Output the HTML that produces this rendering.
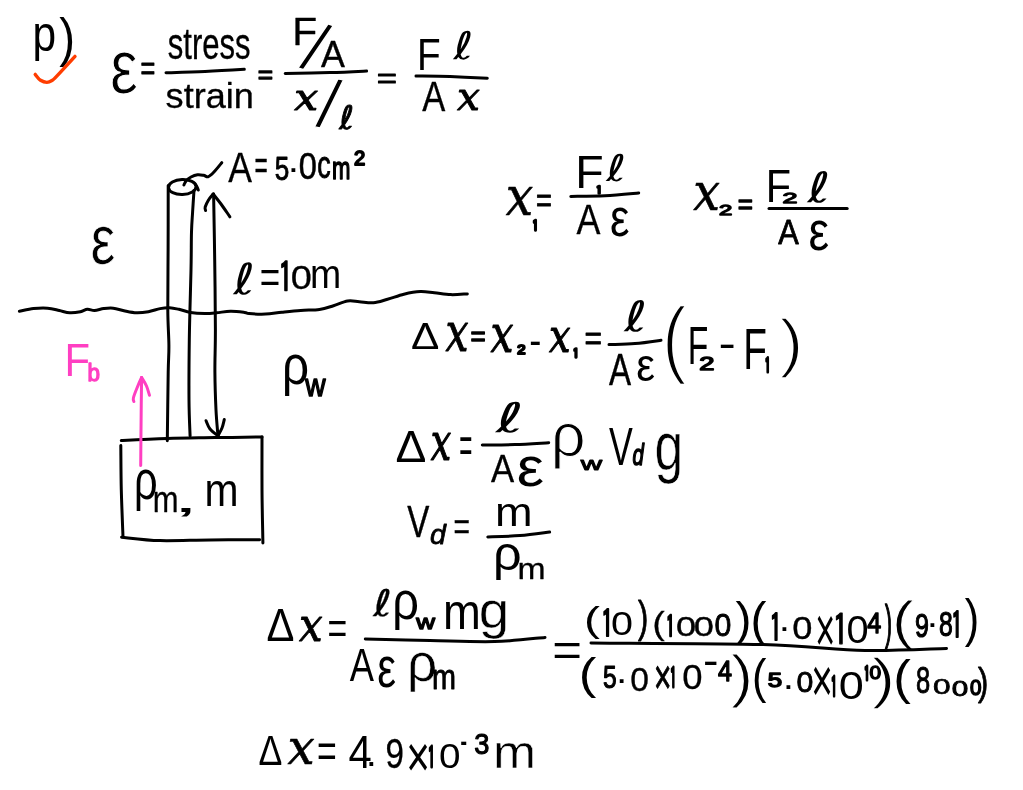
<!DOCTYPE html>
<html lang="en"><head><meta charset="utf-8"><title>Young's modulus - buoyancy problem p)</title>
<style>
html,body{margin:0;padding:0;background:#fff;}
body{width:1023px;height:790px;overflow:hidden;}
svg{display:block;will-change:transform;}
text{font-size:100px;fill:#000;stroke:#000;stroke-linejoin:round;stroke-linecap:round;vector-effect:non-scaling-stroke;}
.a{font-family:"Liberation Sans",sans-serif;}
.b{font-family:"Liberation Sans",sans-serif;font-style:italic;}
.c{font-family:"Liberation Serif",serif;font-style:italic;}
.d{font-family:"DejaVu Sans","Liberation Sans",sans-serif;}
.e{font-family:"DejaVu Sans","Liberation Sans",sans-serif;font-style:italic;}
.f{font-family:"DejaVu Serif","Liberation Serif",serif;font-style:italic;}
.g{font-family:IPAGothic,"Liberation Sans",sans-serif;}
.ink path,.ink ellipse{fill:none;stroke:#000;stroke-width:3;stroke-linecap:round;stroke-linejoin:round;}
</style></head><body>
<svg width="1023" height="790" viewBox="0 0 1023 790">
<rect width="1023" height="790" fill="#fff"/>
<g>
<text transform="matrix(0.4244 0 0 0.4933 32.44 50.64)" class="a" style="stroke:none;">p</text>
<text transform="matrix(0.4755 0 0 0.5283 59.16 55.90)" class="a" style="stroke:none;">)</text>
<text transform="matrix(0.6282 0 0 0.7654 109.95 92.78)" class="a" style="stroke:#fff;stroke-width:1.10;">ε</text>
<text transform="matrix(0.2536 0 0 0.3262 140.53 80.38)" class="a" style="stroke-width:0.80;">=</text>
<text transform="matrix(0.3104 0 0 0.4485 167.82 59.00)" class="a" style="stroke-width:0.30;">stress</text>
<text transform="matrix(0.3613 0 0 0.3524 165.57 107.70)" class="a" style="stroke-width:0.30;">strain</text>
<text transform="matrix(0.2619 0 0 0.2585 257.74 82.61)" class="a" style="stroke-width:1.30;">=</text>
<text transform="matrix(0.4082 0 0 0.3826 292.28 45.45)" class="a" style="stroke-width:0.30;">F</text>
<text transform="rotate(18.4 315.8 46.8) matrix(0.7269 0 0 0.6963 305.57 71.69)" class="a" style="stroke:#fff;stroke-width:1.39;">/</text>
<text transform="matrix(0.3581 0 0 0.3625 320.99 67.01)" class="a" style="stroke-width:0.38;">A</text>
<text transform="matrix(0.4238 0 0 0.3458 294.35 109.84)" class="f" style="stroke-width:1.12;">x</text>
<text transform="rotate(10.2 329.1 103.4) matrix(0.7308 0 0 0.7002 318.87 128.43)" class="a" style="stroke:#fff;stroke-width:1.39;">/</text>
<text transform="matrix(0.3616 0 0 0.3237 339.36 128.51)" class="d" style="stroke-width:0.80;">ℓ</text>
<text transform="matrix(0.3402 0 0 0.2738 376.95 87.57)" class="a" style="stroke-width:1.30;">=</text>
<text transform="matrix(0.3878 0 0 0.4420 416.90 69.70)" class="a" style="stroke:none;">F</text>
<text transform="matrix(0.4839 0 0 0.3837 453.55 58.96)" class="d" style="stroke:none;">ℓ</text>
<text transform="matrix(0.3459 0 0 0.4188 422.15 111.45)" class="a" style="stroke-width:0.30;">A</text>
<text transform="matrix(0.4073 0 0 0.3979 457.05 109.95)" class="f" style="stroke-width:0.91;">x</text>
<text transform="matrix(0.3555 0 0 0.4252 228.33 181.77)" class="a" style="stroke-width:0.26;">A</text>
<text transform="matrix(0.2268 0 0 0.4062 254.42 179.35)" class="a" style="stroke-width:0.30;">=</text>
<text transform="matrix(0.2611 0 0 0.3386 274.86 179.66)" class="a" style="stroke-width:0.80;">5</text>
<text transform="matrix(0.4000 0 0 0.3455 286.70 180.33)" class="a" style="stroke:none;">·</text>
<text transform="matrix(0.3256 0 0 0.3652 298.63 178.80)" class="a" style="stroke-width:0.47;">0</text>
<text transform="matrix(0.2690 0 0 0.3855 317.32 177.91)" class="a" style="stroke-width:0.80;">c</text>
<text transform="matrix(0.2213 0 0 0.3204 331.91 178.75)" class="a" style="stroke-width:1.30;">m</text>
<text transform="matrix(0.2022 0 0 0.1943 353.89 165.30)" class="a" style="stroke-width:1.80;">2</text>
<text transform="matrix(0.5567 0 0 0.7038 90.55 264.20)" class="a" style="stroke:#fff;stroke-width:0.61;">ε</text>
<text transform="matrix(0.5205 0 0 0.4289 233.52 293.66)" class="d" style="stroke:none;">ℓ</text>
<text transform="matrix(0.3505 0 0 0.4615 259.65 292.62)" class="a" style="stroke:none;">=</text>
<text transform="matrix(0.2909 0 0 0.4134 278.30 292.74)" class="g" style="stroke-width:1.26;">1</text>
<text transform="matrix(0.3792 0 0 0.3268 290.73 288.82)" class="a" style="stroke-width:0.30;">0</text>
<text transform="matrix(0.3745 0 0 0.4130 309.97 287.50)" class="a" style="stroke:none;">m</text>
<text transform="matrix(0.4184 0 0 0.4681 64.55 375.50)" class="a" style="fill:#ff3fc2;stroke:none;">F</text>
<text transform="matrix(0.2244 0 0 0.2395 87.39 380.51)" class="a" style="fill:#ff3fc2;stroke-width:1.30;stroke:#ff3fc2;">b</text>
<text transform="matrix(0.4753 0 0 0.5493 282.01 383.86)" class="a" style="stroke:none;">ρ</text>
<text transform="matrix(0.2814 0 0 0.3094 305.15 396.05)" class="a" style="stroke-width:1.30;">w</text>
<text transform="matrix(0.4151 0 0 0.5640 134.00 499.46)" class="a" style="stroke:none;">ρ</text>
<text transform="matrix(0.3092 0 0 0.3741 152.64 512.35)" class="a" style="stroke-width:0.30;">m</text>
<text transform="matrix(0.9400 0 0 0.3745 172.84 512.33)" class="a" style="stroke:none;">,</text>
<text transform="matrix(0.4085 0 0 0.4556 204.44 506.00)" class="a" style="stroke:none;">m</text>
<text transform="matrix(0.4880 0 0 0.5414 505.63 214.83)" class="f" style="stroke-width:0.55;">x</text>
<text transform="matrix(0.1131 0 0 0.1456 532.60 230.97)" class="g" style="stroke-width:2.51;">1</text>
<text transform="matrix(0.2722 0 0 0.3262 536.04 212.28)" class="a" style="stroke-width:0.80;">=</text>
<text transform="matrix(0.4653 0 0 0.4609 575.28 188.30)" class="a" style="stroke:none;">F</text>
<text transform="matrix(0.1111 0 0 0.1079 596.14 193.87)" class="g" style="stroke-width:2.54;">1</text>
<text transform="matrix(0.4839 0 0 0.3666 606.15 181.38)" class="d" style="stroke:none;">ℓ</text>
<text transform="matrix(0.3585 0 0 0.4194 576.53 233.87)" class="a" style="stroke-width:0.26;">A</text>
<text transform="matrix(0.4359 0 0 0.5327 609.97 236.07)" class="a" style="stroke:none;">ε</text>
<text transform="matrix(0.4740 0 0 0.5268 693.26 209.70)" class="f" style="stroke-width:0.60;">x</text>
<text transform="matrix(0.2374 0 0 0.1486 719.11 214.80)" class="a" style="stroke-width:1.80;">2</text>
<text transform="matrix(0.2598 0 0 0.2738 737.85 213.77)" class="a" style="stroke-width:1.30;">=</text>
<text transform="matrix(0.4143 0 0 0.4609 765.69 202.30)" class="a" style="stroke:none;">F</text>
<text transform="matrix(0.2681 0 0 0.1557 782.56 202.60)" class="a" style="stroke-width:1.80;">2</text>
<text transform="matrix(0.5589 0 0 0.4184 807.56 201.67)" class="d" style="stroke:none;">ℓ</text>
<text transform="matrix(0.3075 0 0 0.3572 778.18 243.82)" class="a" style="stroke-width:0.75;">A</text>
<text transform="matrix(0.4615 0 0 0.5545 808.38 249.95)" class="a" style="stroke:none;">ε</text>
<text transform="matrix(0.4246 0 0 0.3768 410.93 349.00)" class="a" style="stroke:none;">Δ</text>
<text transform="matrix(0.4080 0 0 0.5448 445.43 350.57)" class="f" style="stroke-width:0.87;">x</text>
<text transform="matrix(0.2598 0 0 0.2738 470.55 345.97)" class="a" style="stroke-width:1.30;">=</text>
<text transform="matrix(0.4080 0 0 0.5218 490.43 351.87)" class="f" style="stroke-width:0.87;">x</text>
<text transform="matrix(0.1476 0 0 0.1317 517.25 353.71)" class="a" style="stroke-width:2.18;">2</text>
<text transform="matrix(0.3633 0 0 0.4250 529.27 355.26)" class="a" style="stroke:none;">-</text>
<text transform="matrix(0.3820 0 0 0.4717 548.99 351.81)" class="f" style="stroke-width:0.97;">x</text>
<text transform="matrix(0.1131 0 0 0.1270 573.00 357.98)" class="g" style="stroke-width:2.51;">1</text>
<text transform="matrix(0.2990 0 0 0.3262 584.41 349.58)" class="a" style="stroke-width:0.80;">=</text>
<text transform="matrix(0.5589 0 0 0.4171 624.16 331.27)" class="d" style="stroke:none;">ℓ</text>
<text transform="matrix(0.3311 0 0 0.4365 609.09 385.11)" class="a" style="stroke-width:0.38;">A</text>
<text transform="matrix(0.4195 0 0 0.4593 636.20 381.47)" class="a" style="stroke:none;">ε</text>
<text transform="matrix(0.7594 0 0 0.8452 661.78 367.41)" class="a" style="stroke:#fff;stroke-width:2.32;">(</text>
<text transform="matrix(0.3367 0 0 0.5348 687.71 363.70)" class="a" style="stroke:none;">F</text>
<text transform="matrix(0.2725 0 0 0.1843 699.34 370.40)" class="a" style="stroke-width:1.80;">2</text>
<text transform="matrix(0.5184 0 0 0.4250 718.57 358.46)" class="a" style="stroke:none;">-</text>
<text transform="matrix(0.3878 0 0 0.5710 743.20 368.80)" class="a" style="stroke:none;">F</text>
<text transform="matrix(0.1132 0 0 0.2042 764.80 373.17)" class="g" style="stroke-width:2.51;">1</text>
<text transform="matrix(0.7170 0 0 0.6513 779.39 364.87)" class="a" style="stroke:#fff;stroke-width:1.70;">)</text>
<text transform="matrix(0.4623 0 0 0.4406 395.61 462.20)" class="a" style="stroke:none;">Δ</text>
<text transform="matrix(0.3620 0 0 0.5221 430.74 460.17)" class="f" style="stroke-width:1.05;">x</text>
<text transform="matrix(0.2247 0 0 0.5200 459.28 462.98)" class="a" style="stroke:none;">=</text>
<text transform="matrix(0.6849 0 0 0.4105 495.48 431.88)" class="d" style="stroke:none;">ℓ</text>
<text transform="matrix(0.3474 0 0 0.3812 491.05 481.65)" class="a" style="stroke-width:0.30;">A</text>
<text transform="matrix(0.6103 0 0 0.5545 516.86 485.95)" class="a" style="stroke:none;">ε</text>
<text transform="matrix(0.6118 0 0 0.6193 550.65 456.17)" class="a" style="stroke:#fff;stroke-width:1.15;">ρ</text>
<text transform="matrix(0.2952 0 0 0.1811 580.85 469.55)" class="a" style="stroke-width:1.30;">w</text>
<text transform="matrix(0.3567 0 0 0.5299 608.99 465.43)" class="a" style="stroke:none;">V</text>
<text transform="matrix(0.2036 0 0 0.3020 632.54 464.55)" class="b" style="stroke-width:1.30;">d</text>
<text transform="matrix(0.5162 0 0 0.6890 654.47 470.10)" class="a" style="stroke:#fff;stroke-width:0.53;">g</text>
<text transform="matrix(0.3315 0 0 0.4365 407.33 536.81)" class="a" style="stroke-width:0.38;">V</text>
<text transform="matrix(0.2855 0 0 0.2830 430.10 543.92)" class="b" style="stroke-width:0.80;">d</text>
<text transform="matrix(0.2825 0 0 0.3969 453.54 539.60)" class="a" style="stroke-width:0.30;">=</text>
<text transform="matrix(0.4511 0 0 0.4000 495.07 525.60)" class="a" style="stroke:none;">m</text>
<text transform="matrix(0.5032 0 0 0.4747 492.93 570.23)" class="a" style="stroke:none;">ρ</text>
<text transform="matrix(0.3376 0 0 0.2870 517.56 579.35)" class="a" style="stroke-width:0.30;">m</text>
<text transform="matrix(0.4180 0 0 0.4536 266.55 640.50)" class="a" style="stroke:none;">Δ</text>
<text transform="matrix(0.4200 0 0 0.4592 299.00 640.59)" class="f" style="stroke-width:0.82;">x</text>
<text transform="matrix(0.3381 0 0 0.4554 327.61 644.11)" class="a" style="stroke:none;">=</text>
<text transform="matrix(0.4559 0 0 0.3676 373.19 616.42)" class="d" style="stroke-width:0.26;">ℓ</text>
<text transform="matrix(0.4688 0 0 0.5427 392.15 619.00)" class="a" style="stroke:none;">ρ</text>
<text transform="matrix(0.2593 0 0 0.2095 416.25 628.85)" class="a" style="stroke-width:1.50;">w</text>
<text transform="matrix(0.4539 0 0 0.5074 443.05 628.80)" class="a" style="stroke:none;">m</text>
<text transform="matrix(0.5483 0 0 0.5204 478.77 627.51)" class="a" style="stroke:#fff;stroke-width:0.47;">g</text>
<text transform="matrix(0.3633 0 0 0.4632 349.67 681.13)" class="a" style="stroke:none;">A</text>
<text transform="matrix(0.4205 0 0 0.5673 377.13 686.83)" class="a" style="stroke:none;">ε</text>
<text transform="matrix(0.5312 0 0 0.5387 407.10 681.04)" class="a" style="stroke:#fff;stroke-width:0.50;">ρ</text>
<text transform="matrix(0.2879 0 0 0.3481 432.03 689.40)" class="a" style="stroke-width:0.80;">m</text>
<text transform="matrix(0.5093 0 0 0.4677 552.15 666.32)" class="a" style="stroke:none;">=</text>
<text transform="matrix(0.4792 0 0 0.3540 584.12 632.17)" class="a" style="stroke:none;">(</text>
<text transform="matrix(0.2488 0 0 0.3778 601.03 638.11)" class="g" style="stroke-width:1.56;">1</text>
<text transform="matrix(0.3950 0 0 0.3375 610.89 635.29)" class="a" style="stroke:none;">0</text>
<text transform="matrix(0.3075 0 0 0.4401 638.02 632.48)" class="a" style="stroke-width:0.75;">)</text>
<text transform="matrix(0.3666 0 0 0.3082 652.39 634.14)" class="a" style="stroke-width:0.38;">(</text>
<text transform="matrix(0.1742 0 0 0.3146 666.05 637.53)" class="g" style="stroke-width:2.08;">1</text>
<text transform="matrix(0.3610 0 0 0.2793 675.99 636.48)" class="a" style="stroke-width:0.47;">0</text>
<text transform="matrix(0.3610 0 0 0.2793 693.79 636.48)" class="a" style="stroke-width:0.47;">0</text>
<text transform="matrix(0.3021 0 0 0.3127 714.49 636.29)" class="a" style="stroke-width:0.80;">0</text>
<text transform="matrix(0.4792 0 0 0.4620 735.46 634.90)" class="a" style="stroke:none;">)</text>
<text transform="matrix(0.4792 0 0 0.4888 750.62 635.64)" class="a" style="stroke:none;">(</text>
<text transform="matrix(0.2469 0 0 0.3761 769.49 641.90)" class="g" style="stroke-width:1.57;">1</text>
<text transform="matrix(0.4000 0 0 0.3455 777.70 638.73)" class="a" style="stroke:none;">·</text>
<text transform="matrix(0.3628 0 0 0.3171 792.24 639.09)" class="a" style="stroke-width:0.38;">0</text>
<text transform="matrix(0.3407 0 0 0.6531 815.28 651.72)" class="a" style="stroke:none;">×</text>
<text transform="matrix(0.3195 0 0 0.4377 832.62 646.26)" class="g" style="stroke-width:1.06;">1</text>
<text transform="matrix(0.3979 0 0 0.3944 846.51 643.01)" class="a" style="stroke:none;">0</text>
<text transform="matrix(0.2515 0 0 0.2942 867.35 632.55)" class="a" style="stroke-width:1.30;">4</text>
<text transform="matrix(0.2075 0 0 0.4749 885.05 639.08)" class="a" style="stroke-width:1.30;">)</text>
<text transform="matrix(0.6660 0 0 0.5289 891.83 639.17)" class="a" style="stroke:#fff;stroke-width:1.15;">(</text>
<text transform="matrix(0.2502 0 0 0.3259 914.91 637.44)" class="a" style="stroke-width:1.06;">9</text>
<text transform="matrix(0.4000 0 0 0.3455 925.80 634.93)" class="a" style="stroke:none;">·</text>
<text transform="matrix(0.2476 0 0 0.3428 939.02 636.13)" class="a" style="stroke-width:1.06;">8</text>
<text transform="matrix(0.2239 0 0 0.3567 951.21 639.22)" class="g" style="stroke-width:1.73;">1</text>
<text transform="matrix(0.4340 0 0 0.5166 964.78 636.35)" class="a" style="stroke:none;">)</text>
<text transform="matrix(0.5283 0 0 0.4353 578.73 688.86)" class="a" style="stroke:none;">(</text>
<text transform="matrix(0.2450 0 0 0.3119 603.05 688.26)" class="a" style="stroke-width:1.06;">5</text>
<text transform="matrix(0.4000 0 0 0.3455 615.10 690.83)" class="a" style="stroke:none;">·</text>
<text transform="matrix(0.3357 0 0 0.3354 630.35 691.17)" class="a" style="stroke-width:0.38;">0</text>
<text transform="matrix(0.2977 0 0 0.4977 653.89 694.20)" class="a" style="stroke-width:0.75;">×</text>
<text transform="matrix(0.1264 0 0 0.2741 669.94 687.96)" class="g" style="stroke-width:2.42;">1</text>
<text transform="matrix(0.3646 0 0 0.3535 682.29 688.60)" class="a" style="stroke-width:0.30;">0</text>
<text transform="matrix(0.4653 0 0 0.4250 703.11 674.96)" class="a" style="stroke:none;">-</text>
<text transform="matrix(0.2515 0 0 0.2942 718.05 680.85)" class="a" style="stroke-width:1.30;">4</text>
<text transform="matrix(0.6687 0 0 0.5756 730.96 695.92)" class="a" style="stroke:#fff;stroke-width:1.22;">)</text>
<text transform="matrix(0.4340 0 0 0.4888 752.10 692.74)" class="a" style="stroke:none;">(</text>
<text transform="matrix(0.2586 0 0 0.2112 767.83 686.73)" class="a" style="stroke-width:1.72;">5</text>
<text transform="matrix(0.4000 0 0 0.3455 781.70 697.13)" class="a" style="stroke:none;">·</text>
<text transform="matrix(0.3021 0 0 0.2930 796.49 692.21)" class="a" style="stroke-width:0.80;">0</text>
<text transform="matrix(0.3686 0 0 0.6270 811.27 702.35)" class="a" style="stroke:none;">×</text>
<text transform="matrix(0.1264 0 0 0.2741 830.64 696.86)" class="g" style="stroke-width:2.42;">1</text>
<text transform="matrix(0.4500 0 0 0.3944 838.70 698.91)" class="a" style="stroke:none;">0</text>
<text transform="matrix(0.1132 0 0 0.1999 864.10 681.25)" class="g" style="stroke-width:2.51;">1</text>
<text transform="matrix(0.2084 0 0 0.1761 869.62 679.28)" class="a" style="stroke-width:1.50;">0</text>
<text transform="matrix(0.7317 0 0 0.5614 871.14 697.21)" class="a" style="stroke:#fff;stroke-width:1.59;">)</text>
<text transform="matrix(0.5283 0 0 0.4898 893.23 694.11)" class="a" style="stroke:none;">(</text>
<text transform="matrix(0.2553 0 0 0.3648 915.95 693.44)" class="a" style="stroke-width:0.80;">8</text>
<text transform="matrix(0.3167 0 0 0.2211 932.93 693.58)" class="a" style="stroke-width:0.80;">0</text>
<text transform="matrix(0.2966 0 0 0.2174 951.65 695.95)" class="a" style="stroke-width:1.06;">0</text>
<text transform="matrix(0.2063 0 0 0.2296 970.02 694.52)" class="a" style="stroke-width:1.50;">0</text>
<text transform="matrix(0.3075 0 0 0.3866 977.92 694.61)" class="a" style="stroke-width:0.75;">)</text>
<text transform="matrix(0.3568 0 0 0.4284 258.40 764.53)" class="a" style="stroke:none;">Δ</text>
<text transform="matrix(0.4820 0 0 0.4852 287.54 763.51)" class="f" style="stroke-width:0.57;">x</text>
<text transform="matrix(0.3381 0 0 0.4800 317.11 767.02)" class="a" style="stroke:none;">=</text>
<text transform="matrix(0.4178 0 0 0.4652 348.46 767.70)" class="a" style="stroke:none;">4</text>
<text transform="matrix(0.4000 0 0 0.3619 365.70 766.40)" class="a" style="stroke:none;">.</text>
<text transform="matrix(0.3312 0 0 0.4254 385.46 767.92)" class="a" style="stroke-width:0.30;">9</text>
<text transform="matrix(0.4045 0 0 0.5955 406.27 776.55)" class="a" style="stroke:none;">×</text>
<text transform="matrix(0.1474 0 0 0.2919 427.67 768.03)" class="g" style="stroke-width:2.27;">1</text>
<text transform="matrix(0.3867 0 0 0.3502 438.92 768.08)" class="a" style="stroke:none;">0</text>
<text transform="matrix(0.2082 0 0 0.4250 460.36 754.56)" class="a" style="stroke:none;">-</text>
<text transform="matrix(0.2723 0 0 0.2935 474.24 754.37)" class="a" style="stroke-width:1.06;">3</text>
<text transform="matrix(0.5163 0 0 0.4574 493.09 767.95)" class="a" style="stroke:#fff;stroke-width:0.50;">m</text>
</g>
<g class="ink">
<path d="M35.2 74.4 C36.1 75.4 38.5 79.0 40.5 80.3 C42.5 81.6 45.0 82.4 46.9 82.4 C48.8 82.4 50.4 81.5 52.0 80.5 C53.6 79.5 52.5 80.7 56.3 76.7 C60.1 72.7 71.9 59.8 75.0 56.4" style="stroke:#ff3d00;stroke-width:3.4;"/>
<path d="M166.0 72.8 C172.5 72.6 191.9 72.1 205.0 71.5 C218.1 70.9 237.8 69.7 244.3 69.3"/>
<path d="M285.2 73.5 C292.7 73.3 316.4 73.0 330.0 72.6 C343.6 72.2 360.5 71.3 366.6 71.0"/>
<path d="M416.0 76.0 C421.7 76.1 438.1 76.2 450.0 76.6 C461.9 77.0 481.1 77.9 487.3 78.2"/>
<path d="M570.8 196.4 C576.5 196.3 593.7 196.4 605.0 195.8 C616.3 195.2 633.1 193.4 638.7 192.9"/>
<path d="M769.0 208.6 C782.0 208.6 834.2 208.6 847.2 208.6"/>
<path d="M609.0 344.6 C613.3 344.4 626.3 344.3 635.0 343.6 C643.7 342.9 656.7 340.9 661.0 340.3"/>
<path d="M482.3 445.0 C487.8 444.9 503.9 445.0 515.0 444.6 C526.1 444.2 543.1 443.0 548.7 442.7"/>
<path d="M487.8 537.0 C493.2 536.8 509.7 536.4 520.0 535.6 C530.3 534.8 544.7 532.6 549.6 532.0"/>
<path d="M365.3 639.0 C376.1 639.3 408.5 640.2 430.0 640.6 C451.5 641.0 475.3 642.1 494.5 641.6 C513.7 641.1 536.6 638.1 545.0 637.4"/>
<path d="M591.0 643.0 C619.7 643.3 717.3 643.4 763.0 644.6 C808.7 645.9 834.4 649.9 865.0 650.5 C895.6 651.1 932.9 648.8 946.5 648.5"/>
<path d="M168.2 185.4 C168.2 196.2 168.2 229.2 168.1 250.0 C168.0 270.8 167.7 294.2 167.8 310.0 C167.9 325.8 168.8 334.7 168.9 345.0 C169.0 355.3 168.5 356.0 168.2 372.0 C167.9 388.0 167.5 429.3 167.3 440.8"/>
<path d="M194.0 190.5 C193.8 194.1 193.0 205.1 192.6 212.0 C192.2 218.9 191.8 222.3 191.5 232.0 C191.2 241.7 191.4 252.0 191.0 270.0 C190.6 288.0 189.6 318.3 189.3 340.0 C189.0 361.7 188.9 384.0 189.0 400.0 C189.1 416.0 189.9 430.0 190.1 436.0"/>
<ellipse cx="182.3" cy="187" rx="13.8" ry="7.6" transform="rotate(-2 182.3 187)"/>
<path d="M195.2 184.2 C195.5 184.7 196.5 186.0 197.0 187.0 C197.5 188.0 198.1 189.5 198.3 190.0"/>
<path d="M183.9 184.9 C184.3 184.2 185.2 181.7 186.4 180.4 C187.6 179.1 189.2 177.9 191.0 177.0 C192.8 176.1 195.4 175.1 197.5 174.8 C199.6 174.5 201.8 175.0 203.6 175.3 C205.4 175.6 206.4 177.3 208.1 176.8 C209.8 176.3 211.4 174.7 213.7 172.3 C216.0 170.0 220.5 164.3 221.8 162.7"/>
<path d="M213.6 194.0 C213.8 205.0 214.4 237.3 214.7 260.0 C215.0 282.7 215.4 311.3 215.4 330.0 C215.4 348.7 214.8 358.7 214.9 372.0 C215.0 385.3 215.5 399.3 216.0 410.0 C216.5 420.7 217.7 431.9 218.0 436.3"/>
<path d="M205.6 210.5 C205.5 209.9 204.7 208.8 205.2 207.0 C205.7 205.2 207.2 202.2 208.5 200.0 C209.8 197.8 212.4 195.0 213.2 194.0"/>
<path d="M213.2 194.0 C214.5 195.7 218.2 200.2 221.0 204.0 C223.8 207.8 228.4 214.7 229.9 216.8"/>
<path d="M206.0 420.7 C206.7 422.1 208.0 426.5 210.0 429.0 C212.0 431.5 216.7 434.7 218.0 435.8"/>
<path d="M218.0 435.8 C218.7 434.5 220.9 430.7 222.0 428.0 C223.1 425.3 223.9 420.9 224.3 419.5"/>
<path d="M19.4 311.2 C21.8 310.8 28.8 309.1 33.5 308.6 C38.2 308.1 43.2 307.9 47.5 308.2 C51.8 308.5 55.6 309.7 59.3 310.5 C63.0 311.3 66.3 312.6 69.8 312.8 C73.3 313.0 77.5 312.3 80.4 311.7 C83.3 311.1 85.1 309.5 87.4 309.3 C89.8 309.1 91.8 310.6 94.5 310.5 C97.2 310.4 100.7 309.0 103.8 308.6 C106.9 308.2 109.7 307.8 113.2 308.2 C116.7 308.6 121.1 310.2 125.0 311.0 C128.9 311.8 132.8 312.7 136.7 312.8 C140.6 312.9 144.5 312.4 148.4 311.7 C152.3 311.0 156.6 309.3 160.1 308.6 C163.6 307.9 166.4 307.6 169.5 307.7 C172.6 307.8 175.4 308.5 178.9 309.3 C182.4 310.1 186.3 311.7 190.6 312.4 C194.9 313.1 200.4 313.4 204.7 313.5 C209.0 313.6 212.2 313.2 216.5 312.8 C220.8 312.4 225.8 311.3 230.5 311.2 C235.2 311.1 241.5 312.0 244.6 312.4 C247.7 312.8 245.6 313.3 249.1 313.6 C252.6 313.9 260.0 314.3 265.5 314.1 C271.0 313.9 276.0 312.8 281.9 312.2 C287.8 311.6 294.4 310.9 300.7 310.4 C307.0 309.9 314.0 310.2 319.5 309.4 C325.0 308.6 328.8 307.1 333.5 305.7 C338.2 304.3 343.3 301.7 347.6 301.0 C351.9 300.3 355.0 301.4 359.3 301.7 C363.6 302.0 368.7 303.2 373.4 302.8 C378.1 302.4 382.4 300.7 387.5 299.3 C392.6 297.9 398.4 295.5 403.9 294.2 C409.4 292.9 415.2 291.8 420.3 291.6 C425.4 291.4 429.3 292.3 434.4 292.8 C439.5 293.3 445.3 294.4 450.8 294.6 C456.3 294.8 464.6 294.0 467.3 293.9"/>
<path d="M121.3 440.6 C129.0 440.2 151.7 439.0 167.3 438.5 C182.9 438.0 199.2 437.9 215.0 437.6 C230.8 437.4 254.2 437.1 262.0 437.0"/>
<path d="M262.0 437.0 C262.0 445.8 261.9 472.3 262.0 490.0 C262.1 507.7 262.8 534.2 262.9 543.0"/>
<path d="M120.8 445.6 C120.9 453.0 120.9 474.8 121.3 490.0 C121.7 505.2 122.7 529.0 123.0 536.8"/>
<path d="M121.6 537.2 C128.0 537.8 145.3 540.2 160.0 540.6 C174.7 541.0 193.4 540.0 210.0 539.9 C226.6 539.8 251.3 539.7 259.6 539.7"/>
<path d="M140.7 465.5 C140.8 457.9 140.9 434.7 141.1 420.0 C141.2 405.3 141.5 384.6 141.6 377.5" style="stroke:#ff3fc2;"/>
<path d="M133.9 401.6 C133.8 401.0 132.9 400.3 133.4 398.0 C133.9 395.7 135.6 391.4 137.0 388.0 C138.4 384.6 140.8 379.2 141.6 377.5" style="stroke:#ff3fc2;"/>
<path d="M141.6 377.5 C142.4 378.9 145.2 383.0 146.5 386.0 C147.8 389.0 149.0 393.8 149.5 395.3" style="stroke:#ff3fc2;"/>
</g>
</svg>
</body></html>
